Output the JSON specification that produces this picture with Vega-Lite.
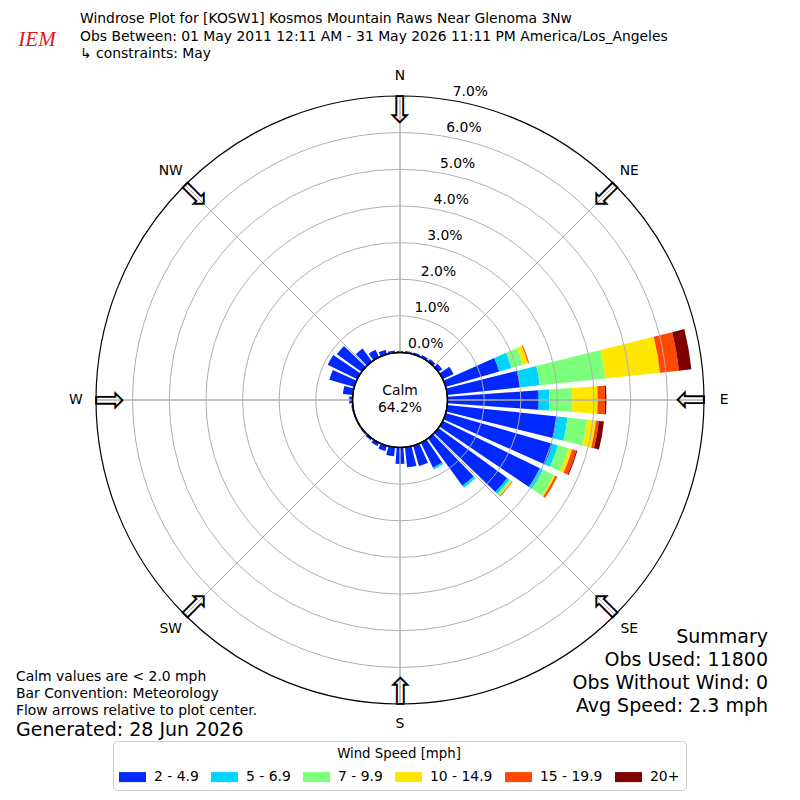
{
  "$schema": "https://vega.github.io/schema/vega-lite/v6.json",
  "description": "Windrose for KOSW1, May, 2011-2026.",
  "autosize": {"type": "none"},
  "width": 800,
  "height": 680,
  "padding": {"top": 60, "bottom": 60, "left": 0, "right": 0},
  "datasets": {
    "rose": [
      {"dir": 0, "speed": "2 - 4.9", "pct": 0.04},
      {"dir": 10, "speed": "2 - 4.9", "pct": 0.05},
      {"dir": 20, "speed": "2 - 4.9", "pct": 0.05},
      {"dir": 30, "speed": "2 - 4.9", "pct": 0.07},
      {"dir": 40, "speed": "2 - 4.9", "pct": 0.09},
      {"dir": 50, "speed": "2 - 4.9", "pct": 0.13},
      {"dir": 60, "speed": "2 - 4.9", "pct": 0.33},
      {"dir": 70, "speed": "2 - 4.9", "pct": 1.52},
      {"dir": 70, "speed": "5 - 6.9", "pct": 0.35},
      {"dir": 70, "speed": "7 - 9.9", "pct": 0.33},
      {"dir": 70, "speed": "10 - 14.9", "pct": 0.14},
      {"dir": 70, "speed": "15 - 19.9", "pct": 0.03},
      {"dir": 80, "speed": "2 - 4.9", "pct": 2.01},
      {"dir": 80, "speed": "5 - 6.9", "pct": 0.53},
      {"dir": 80, "speed": "7 - 9.9", "pct": 1.80},
      {"dir": 80, "speed": "10 - 14.9", "pct": 1.50},
      {"dir": 80, "speed": "15 - 19.9", "pct": 0.52},
      {"dir": 80, "speed": "20+", "pct": 0.34},
      {"dir": 90, "speed": "2 - 4.9", "pct": 2.49},
      {"dir": 90, "speed": "5 - 6.9", "pct": 0.29},
      {"dir": 90, "speed": "7 - 9.9", "pct": 0.63},
      {"dir": 90, "speed": "10 - 14.9", "pct": 0.69},
      {"dir": 90, "speed": "15 - 19.9", "pct": 0.20},
      {"dir": 90, "speed": "20+", "pct": 0.04},
      {"dir": 100, "speed": "2 - 4.9", "pct": 3.02},
      {"dir": 100, "speed": "5 - 6.9", "pct": 0.28},
      {"dir": 100, "speed": "7 - 9.9", "pct": 0.54},
      {"dir": 100, "speed": "10 - 14.9", "pct": 0.24},
      {"dir": 100, "speed": "15 - 19.9", "pct": 0.08},
      {"dir": 100, "speed": "20+", "pct": 0.14},
      {"dir": 110, "speed": "2 - 4.9", "pct": 3.03},
      {"dir": 110, "speed": "5 - 6.9", "pct": 0.16},
      {"dir": 110, "speed": "7 - 9.9", "pct": 0.30},
      {"dir": 110, "speed": "10 - 14.9", "pct": 0.10},
      {"dir": 110, "speed": "15 - 19.9", "pct": 0.12},
      {"dir": 110, "speed": "20+", "pct": 0.03},
      {"dir": 120, "speed": "2 - 4.9", "pct": 2.95},
      {"dir": 120, "speed": "5 - 6.9", "pct": 0.10},
      {"dir": 120, "speed": "7 - 9.9", "pct": 0.32},
      {"dir": 120, "speed": "10 - 14.9", "pct": 0.05},
      {"dir": 120, "speed": "15 - 19.9", "pct": 0.06},
      {"dir": 130, "speed": "2 - 4.9", "pct": 2.32},
      {"dir": 130, "speed": "5 - 6.9", "pct": 0.08},
      {"dir": 130, "speed": "7 - 9.9", "pct": 0.05},
      {"dir": 130, "speed": "10 - 14.9", "pct": 0.03},
      {"dir": 130, "speed": "15 - 19.9", "pct": 0.02},
      {"dir": 140, "speed": "2 - 4.9", "pct": 1.60},
      {"dir": 140, "speed": "5 - 6.9", "pct": 0.06},
      {"dir": 140, "speed": "7 - 9.9", "pct": 0.02},
      {"dir": 150, "speed": "2 - 4.9", "pct": 0.76},
      {"dir": 150, "speed": "5 - 6.9", "pct": 0.05},
      {"dir": 150, "speed": "7 - 9.9", "pct": 0.02},
      {"dir": 160, "speed": "2 - 4.9", "pct": 0.58},
      {"dir": 170, "speed": "2 - 4.9", "pct": 0.55},
      {"dir": 180, "speed": "2 - 4.9", "pct": 0.45},
      {"dir": 190, "speed": "2 - 4.9", "pct": 0.25},
      {"dir": 200, "speed": "2 - 4.9", "pct": 0.15},
      {"dir": 210, "speed": "2 - 4.9", "pct": 0.10},
      {"dir": 220, "speed": "2 - 4.9", "pct": 0.06},
      {"dir": 230, "speed": "2 - 4.9", "pct": 0.04},
      {"dir": 240, "speed": "2 - 4.9", "pct": 0.03},
      {"dir": 250, "speed": "2 - 4.9", "pct": 0.03},
      {"dir": 260, "speed": "2 - 4.9", "pct": 0.04},
      {"dir": 270, "speed": "2 - 4.9", "pct": 0.09},
      {"dir": 280, "speed": "2 - 4.9", "pct": 0.27},
      {"dir": 290, "speed": "2 - 4.9", "pct": 0.71},
      {"dir": 300, "speed": "2 - 4.9", "pct": 0.90},
      {"dir": 310, "speed": "2 - 4.9", "pct": 0.83},
      {"dir": 320, "speed": "2 - 4.9", "pct": 0.44},
      {"dir": 330, "speed": "2 - 4.9", "pct": 0.23},
      {"dir": 340, "speed": "2 - 4.9", "pct": 0.13},
      {"dir": 350, "speed": "2 - 4.9", "pct": 0.06}
    ],
    "rings": [
      {"p": 0}, {"p": 1}, {"p": 2}, {"p": 3}, {"p": 4}, {"p": 5}, {"p": 6}, {"p": 7}
    ],
    "dirs": [
      {"dir": 0, "lab": "N"}, {"dir": 45, "lab": "NE"}, {"dir": 90, "lab": "E"}, {"dir": 135, "lab": "SE"},
      {"dir": 180, "lab": "S"}, {"dir": 225, "lab": "SW"}, {"dir": 270, "lab": "W"}, {"dir": 315, "lab": "NW"}
    ]
  },
  "layer": [
    {
      "data": {"name": "rose"},
      "transform": [
        {"calculate": "indexof(['2 - 4.9','5 - 6.9','7 - 9.9','10 - 14.9','15 - 19.9','20+'], datum.speed)", "as": "k"},
        {"window": [{"op": "sum", "field": "pct", "as": "r1"}], "groupby": ["dir"], "sort": [{"field": "k"}], "frame": [null, 0]},
        {"calculate": "datum.r1 - datum.pct", "as": "r0"},
        {"calculate": "datum.dir - 4", "as": "t0"},
        {"calculate": "datum.dir + 4", "as": "t1"}
      ],
      "mark": {"type": "arc"},
      "encoding": {
        "theta": {"field": "t0", "type": "quantitative", "stack": null, "scale": {"type": "linear", "domain": [0, 360], "range": [0, 6.283185307179586]}},
        "theta2": {"field": "t1"},
        "radius": {"field": "r1", "type": "quantitative", "stack": null, "scale": {"type": "linear", "domain": [0, 7], "range": [47.5, 304], "zero": false}},
        "radius2": {"field": "r0"},
        "color": {
          "field": "speed", "type": "nominal",
          "scale": {"domain": ["2 - 4.9", "5 - 6.9", "7 - 9.9", "10 - 14.9", "15 - 19.9", "20+"],
                    "range": ["#0028ff", "#00d4ff", "#7cff7a", "#ffe600", "#ff4800", "#800000"]},
          "legend": {
            "title": "Wind Speed [mph]", "orient": "none", "legendX": 113, "legendY": 681,
            "direction": "horizontal", "titleAnchor": "middle", "titleAlign": "center",
            "titleFont": "DejaVu Sans", "titleFontSize": 13.3, "titleFontWeight": "normal", "titleColor": "black", "titlePadding": 3,
            "labelFont": "DejaVu Sans", "labelFontSize": 13.9, "labelColor": "black", "labelOffset": 8,
            "columnPadding": 12, "symbolType": "M-1,-0.37H1V0.37H-1Z", "symbolSize": 729, "symbolStrokeWidth": 0,
            "padding": 6, "strokeColor": "#cccccc", "fillColor": "white", "cornerRadius": 4
          }
        }
      }
    },
    {
      "data": {"name": "rings"},
      "transform": [{"filter": "datum.p >= 1 && datum.p <= 6"}],
      "mark": {"type": "arc", "filled": false, "stroke": "#b0b0b0", "strokeWidth": 1},
      "encoding": {
        "theta": {"datum": 0, "type": "quantitative", "stack": null, "scale": {"type": "linear", "domain": [0, 360], "range": [0, 6.283185307179586]}},
        "theta2": {"datum": 360},
        "radius": {"field": "p", "type": "quantitative", "stack": null, "scale": {"type": "linear", "domain": [0, 7], "range": [47.5, 304], "zero": false}}
      }
    },
    {
      "data": {"name": "dirs"},
      "mark": {"type": "arc", "filled": false, "stroke": "#b0b0b0", "strokeWidth": 1},
      "encoding": {
        "theta": {"field": "dir", "type": "quantitative", "stack": null, "scale": {"type": "linear", "domain": [0, 360], "range": [0, 6.283185307179586]}},
        "theta2": {"field": "dir"},
        "radius": {"datum": 7, "type": "quantitative", "stack": null, "scale": {"type": "linear", "domain": [0, 7], "range": [47.5, 304], "zero": false}},
        "radius2": {"datum": 0}
      }
    },
    {
      "data": {"name": "rings"},
      "transform": [{"filter": "datum.p == 7"}],
      "mark": {"type": "arc", "filled": false, "stroke": "black", "strokeWidth": 1.2},
      "encoding": {
        "theta": {"datum": 0, "type": "quantitative", "stack": null, "scale": {"type": "linear", "domain": [0, 360], "range": [0, 6.283185307179586]}},
        "theta2": {"datum": 360},
        "radius": {"field": "p", "type": "quantitative", "stack": null, "scale": {"type": "linear", "domain": [0, 7], "range": [47.5, 304], "zero": false}}
      }
    },
    {
      "data": {"name": "rings"},
      "transform": [{"filter": "datum.p == 0"}],
      "mark": {"type": "arc", "fill": "white", "stroke": "black", "strokeWidth": 1.5},
      "encoding": {
        "theta": {"datum": 0, "type": "quantitative", "stack": null, "scale": {"type": "linear", "domain": [0, 360], "range": [0, 6.283185307179586]}},
        "theta2": {"datum": 360},
        "radius": {"field": "p", "type": "quantitative", "stack": null, "scale": {"type": "linear", "domain": [0, 7], "range": [47.5, 304], "zero": false}}
      }
    },
    {
      "data": {"name": "rings"},
      "transform": [{"calculate": "format(datum.p, '.1f') + '%'", "as": "lab"}],
      "mark": {"type": "text", "font": "DejaVu Sans", "fontSize": 13.9, "color": "black", "align": "center", "baseline": "middle", "dx": 17.5, "dy": -9},
      "encoding": {
        "theta": {"datum": 10, "type": "quantitative", "stack": null, "scale": {"type": "linear", "domain": [0, 360], "range": [0, 6.283185307179586]}},
        "radius": {"field": "p", "type": "quantitative", "stack": null, "scale": {"type": "linear", "domain": [0, 7], "range": [47.5, 304], "zero": false}},
        "text": {"field": "lab"}
      }
    },
    {
      "data": {"name": "dirs"},
      "mark": {"type": "text", "font": "DejaVu Sans", "fontSize": 13.9, "color": "black", "align": "center", "baseline": "middle"},
      "encoding": {
        "theta": {"field": "dir", "type": "quantitative", "stack": null, "scale": {"type": "linear", "domain": [0, 360], "range": [0, 6.283185307179586]}},
        "radius": {"datum": 7.55, "type": "quantitative", "stack": null, "scale": {"type": "linear", "domain": [0, 7], "range": [47.5, 304], "zero": false}},
        "text": {"field": "lab"}
      }
    },
    {
      "data": {"name": "dirs"},
      "mark": {"type": "text", "font": "DejaVu Sans", "fontSize": 38, "color": "black", "align": "center", "baseline": "middle", "text": "⇩"},
      "encoding": {
        "theta": {"field": "dir", "type": "quantitative", "stack": null, "scale": {"type": "linear", "domain": [0, 360], "range": [0, 6.283185307179586]}},
        "radius": {"datum": 6.57, "type": "quantitative", "stack": null, "scale": {"type": "linear", "domain": [0, 7], "range": [47.5, 304], "zero": false}},
        "angle": {"field": "dir", "type": "quantitative", "scale": null}
      }
    },
    {
      "data": {"values": [{}]},
      "mark": {"type": "text", "font": "DejaVu Sans", "fontSize": 13.9, "color": "black", "align": "left", "baseline": "alphabetic", "lineHeight": 17.5,
               "text": ["Windrose Plot for [KOSW1] Kosmos Mountain Raws Near Glenoma 3Nw", "Obs Between: 01 May 2011 12:11 AM - 31 May 2026 11:11 PM America/Los_Angeles", "\u00a0↳ constraints: May"]},
      "encoding": {
        "x": {"datum": 0.1, "type": "quantitative", "scale": {"domain": [0, 1]}, "axis": null},
        "y": {"datum": -0.0537, "type": "quantitative", "scale": {"domain": [1, 0]}, "axis": null}
      }
    },
    {
      "data": {"values": [{}]},
      "mark": {"type": "text", "font": "DejaVu Sans", "fontSize": 13.9, "color": "black", "align": "center", "baseline": "alphabetic", "lineHeight": 17, "text": ["Calm", "64.2%"]},
      "encoding": {
        "x": {"datum": 0.5, "type": "quantitative", "scale": {"domain": [0, 1]}, "axis": null},
        "y": {"datum": 0.4922, "type": "quantitative", "scale": {"domain": [1, 0]}, "axis": null}
      }
    },
    {
      "data": {"values": [{}]},
      "mark": {"type": "text", "font": "DejaVu Sans", "fontSize": 19, "color": "black", "align": "right", "baseline": "alphabetic", "lineHeight": 23,
               "text": ["Summary", "Obs Used: 11800", "Obs Without Wind: 0", "Avg Speed: 2.3 mph"]},
      "encoding": {
        "x": {"datum": 0.96, "type": "quantitative", "scale": {"domain": [0, 1]}, "axis": null},
        "y": {"datum": 0.8569, "type": "quantitative", "scale": {"domain": [1, 0]}, "axis": null}
      }
    },
    {
      "data": {"values": [{}]},
      "mark": {"type": "text", "font": "DejaVu Sans", "fontSize": 13.9, "color": "black", "align": "left", "baseline": "alphabetic", "lineHeight": 17,
               "text": ["Calm values are < 2.0 mph", "Bar Convention: Meteorology", "Flow arrows relative to plot center."]},
      "encoding": {
        "x": {"datum": 0.02, "type": "quantitative", "scale": {"domain": [0, 1]}, "axis": null},
        "y": {"datum": 0.9128, "type": "quantitative", "scale": {"domain": [1, 0]}, "axis": null}
      }
    },
    {
      "data": {"values": [{}]},
      "mark": {"type": "text", "font": "DejaVu Sans", "fontSize": 19, "color": "black", "align": "left", "baseline": "alphabetic", "text": "Generated: 28 Jun 2026"},
      "encoding": {
        "x": {"datum": 0.02, "type": "quantitative", "scale": {"domain": [0, 1]}, "axis": null},
        "y": {"datum": 0.9937, "type": "quantitative", "scale": {"domain": [1, 0]}, "axis": null}
      }
    },
    {
      "data": {"values": [{}]},
      "mark": {"type": "text", "font": "Liberation Serif", "fontStyle": "italic", "fontSize": 21, "color": "#d7191c", "align": "center", "baseline": "alphabetic", "text": "IEM"},
      "encoding": {
        "x": {"datum": 0.04625, "type": "quantitative", "scale": {"domain": [0, 1]}, "axis": null},
        "y": {"datum": -0.0206, "type": "quantitative", "scale": {"domain": [1, 0]}, "axis": null}
      }
    }
  ],
  "config": {
    "view": {"stroke": null},
    "font": "DejaVu Sans"
  }
}
